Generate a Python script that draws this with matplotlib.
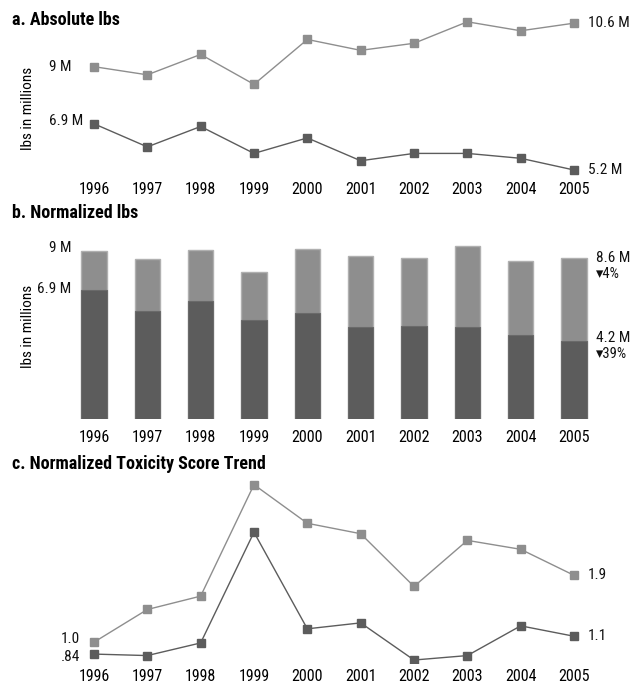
import numpy as np
import matplotlib
matplotlib.use("Agg")
import matplotlib.pyplot as plt
from matplotlib import font_manager

# pick a narrow face if one is around
names = {f.name for f in font_manager.fontManager.ttflist}
narrow = next((n for n in ["Liberation Sans Narrow", "Roboto Condensed", "Open Sans Condensed"] if n in names), "Liberation Sans")
plt.rcParams["font.family"] = [narrow, "DejaVu Sans"]

years = ["1996", "1997", "1998", "1999", "2000", "2001", "2002", "2003", "2004", "2005"]

# a. absolute lbs (millions)
abs_total = [9.0, 8.7, 9.45, 8.35, 10.0, 9.6, 9.86, 10.65, 10.32, 10.6]
abs_toxic = [6.9, 6.05, 6.8, 5.81, 6.38, 5.54, 5.81, 5.81, 5.63, 5.2]

# b. normalized lbs (millions)
norm_total = [9.0, 8.57, 9.04, 7.89, 9.1, 8.73, 8.62, 9.25, 8.48, 8.6]
norm_toxic = [6.9, 5.77, 6.32, 5.32, 5.66, 4.91, 4.96, 4.93, 4.5, 4.2]

# c. normalized toxicity score
tox_upper = [1.0, 1.44, 1.62, 3.12, 2.6, 2.46, 1.75, 2.37, 2.25, 1.9]
tox_lower = [0.84, 0.82, 0.99, 2.48, 1.18, 1.26, 0.76, 0.82, 1.22, 1.08]

LIGHT = "#8e8e8e"
DARK = "#5c5c5c"
W, H = 631, 683

fig = plt.figure(figsize=(W / 100, H / 100), dpi=100)

def axes_px(top, bottom):
    left, right = 67.3, 600.7
    return fig.add_axes([left / W, 1 - bottom / H, (right - left) / W, (bottom - top) / H])

x = np.arange(len(years))

def clean(ax, pad):
    for s in ax.spines.values():
        s.set_visible(False)
    ax.set_yticks([])
    ax.set_xticks(x)
    ax.set_xticklabels(years)
    ax.tick_params(axis="x", length=0, pad=pad, labelsize=11.5)
    ax.set_xlim(-0.5, 9.5)

def lab(ax, text, xy, dx, dy, ha, size=11):
    ax.annotate(text, xy=xy, xytext=(dx, dy), textcoords="offset points",
                ha=ha, va="center", fontsize=size, color="#111111")

# --- panel a
ax = axes_px(15, 175)
ax.plot(x, abs_total, color=LIGHT, lw=1.0, marker="s", ms=5.5)
ax.plot(x, abs_toxic, color=DARK, lw=1.0, marker="s", ms=5.5)
ax.set_ylim(5.016, 10.9)
clean(ax, 5)
lab(ax, "9 M", (0, abs_total[0]), -16, 0, "right")
lab(ax, "6.9 M", (0, abs_toxic[0]), -8, 2, "right")
lab(ax, "10.6 M", (9, abs_total[-1]), 10, 0, "left")
lab(ax, "5.2 M", (9, abs_toxic[-1]), 10, 0, "left")

# --- panel b
ax = axes_px(240, 419)
ax.bar(x, norm_total, width=0.47, color=LIGHT, edgecolor="#b0b0b0", lw=1.0)
ax.bar(x, norm_toxic, width=0.47, color=DARK, edgecolor="#6a6a6a", lw=0.8)
ax.set_ylim(0, 9.59)
clean(ax, 8)
lab(ax, "9 M", (0, norm_total[0]), -16, 2, "right")
lab(ax, "6.9 M", (0, norm_toxic[0]), -16, 1, "right")
lab(ax, "8.6 M", (9, norm_total[-1]), 16, 0, "left")
lab(ax, "\u25be4%", (9, norm_total[-1]), 16, -11.5, "left", 10.5)
lab(ax, "4.2 M", (9, norm_toxic[-1]), 16, 2, "left")
lab(ax, "\u25be39%", (9, norm_toxic[-1]), 16, -9.5, "left", 10.5)

# --- panel c
ax = axes_px(475, 663)
ax.plot(x, tox_upper, color=LIGHT, lw=1.0, marker="s", ms=5.5)
ax.plot(x, tox_lower, color=DARK, lw=1.0, marker="s", ms=5.5)
ax.set_ylim(0.72, 3.25)
clean(ax, 4)
lab(ax, "1.0", (0, tox_upper[0]), -10, 2, "right")
lab(ax, ".84", (0, tox_lower[0]), -10, -2, "right")
lab(ax, "1.9", (9, tox_upper[-1]), 10, 0, "left")
lab(ax, "1.1", (9, tox_lower[-1]), 10, 0, "left")

# titles and axis captions
for ty, title in [(20, "a. Absolute lbs"), (213, "b. Normalized lbs"), (464, "c. Normalized Toxicity Score Trend")]:
    fig.text(12 / W, 1 - ty / H, title, fontsize=13, fontweight="bold", va="center", ha="left")
for cy in [108, 326]:
    fig.text(28 / W, 1 - cy / H, "lbs in millions", rotation=90, fontsize=11, va="center", ha="center")

fig.savefig("out.png", dpi=100)
